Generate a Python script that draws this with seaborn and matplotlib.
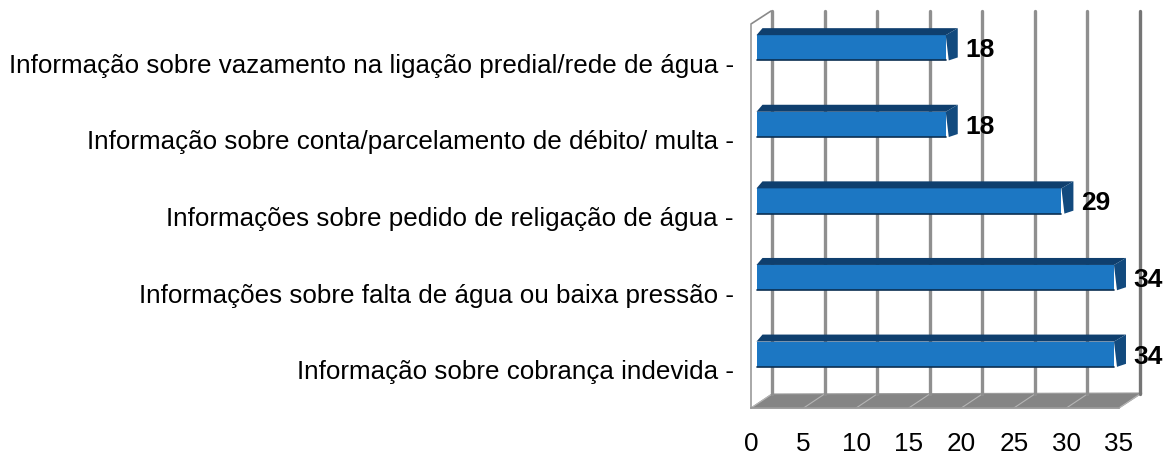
import matplotlib
matplotlib.use("Agg")
import matplotlib.pyplot as plt
import seaborn as sns
import pandas as pd
from matplotlib.patches import Polygon
from matplotlib.transforms import Affine2D, IdentityTransform

categories = [
    "Informação sobre vazamento na ligação predial/rede de água",
    "Informação sobre conta/parcelamento de débito/ multa",
    "Informações sobre pedido de religação de água",
    "Informações sobre falta de água ou baixa pressão",
    "Informação sobre cobrança indevida",
]
values = [18, 18, 29, 34, 34]
xticks = [0, 5, 10, 15, 20, 25, 30, 35]

W, H = 1165, 454
sns.set_style("white")
plt.rcParams["font.family"] = ["Liberation Sans", "DejaVu Sans"]
plt.rcParams["text.color"] = "black"
plt.rcParams["xtick.labelcolor"] = "black"
plt.rcParams["ytick.labelcolor"] = "black"

fig = plt.figure(figsize=(W / 100, H / 100), dpi=100)
L, R, T, B = 751, 1119, 25, 408
ax = fig.add_axes([L / W, 1 - B / H, (R - L) / W, (B - T) / H])

df = pd.DataFrame({"cat": categories, "val": values})
sns.barplot(data=df, x="val", y="cat", orient="h", color="#1c77c3", width=0.33,
            saturation=1, ax=ax, zorder=5)
ax.set_xlim(0, 35)
ax.set_ylim(len(categories) - 0.5, -0.5)
ax.set_xlabel("")
ax.set_ylabel("")

ax.set_xticks(xticks)
ax.set_xticklabels([str(t) for t in xticks], fontsize=18.8)
ax.set_yticks(range(len(categories)))
ax.set_yticklabels([c + " -" for c in categories], fontsize=18.7)
ax.tick_params(axis="y", length=0, pad=12.5)
ax.tick_params(axis="x", length=2, width=1.5, color="#222222", pad=15, direction="out")

for s in ("top", "right"):
    ax.spines[s].set_visible(False)
for s in ("left", "bottom"):
    ax.spines[s].set_color("#9a9a9a")
    ax.spines[s].set_linewidth(1.2)

# pseudo-3D room: back wall, floor
DX, DY = 21, 14
floor_corners = [(L, H - B), (R, H - B), (R + DX + 2, H - B + DY + 1), (L + DX, H - B + DY)]
ax.add_patch(Polygon(floor_corners, closed=True, transform=IdentityTransform(),
                     facecolor="#858585", edgecolor="#9a9a9a", lw=0.8, zorder=1, clip_on=False))
for t in xticks:
    (x0, y0) = ax.transData.transform((t, len(categories) - 0.5))
    ax.plot([x0, x0 + DX], [y0, y0 + DY], transform=IdentityTransform(),
            color="#b5b5b5", lw=0.8, zorder=1.5, clip_on=False)
    ax.plot([x0 + DX, x0 + DX], [y0 + DY, H - 11], transform=IdentityTransform(),
            color="#757575" if t == 35 else "#8f8f8f", lw=2.4, zorder=2, clip_on=False)
# top left corner notch of side wall
ax.plot([L, L + DX - 1], [H - T + 1, H - 11], transform=IdentityTransform(),
        color="#8a8a8a", lw=1.2, zorder=2, clip_on=False)

# bars: shift front face into the room, add top and side faces
SX, SY = 5.5, 15.5
BX, BY = 12, 7
for p, v in zip(ax.patches, values):
    if not hasattr(p, "get_width") or p.get_width() == 0:
        continue
    x0, y0 = ax.transData.transform((p.get_x(), p.get_y() + p.get_height()))
    x1, y1 = ax.transData.transform((p.get_x() + p.get_width(), p.get_y()))
    x0 += SX; x1 += SX; y0 += SY; y1 += SY
    p.set_transform(ax.transData + Affine2D().translate(SX, SY))
    p.set_clip_on(False)
    p.set_edgecolor("none")
    top = [(x0, y1), (x0 + 6, y1 + BY), (x1 + BX, y1 + BY), (x1, y1)]
    side = [(x1, y1), (x1 + BX, y1 + BY), (x1 + BX, y0 + 3), (x1 + 3, y0)]
    ax.add_patch(Polygon(top, closed=True, transform=IdentityTransform(), facecolor="#0f3f6e",
                         edgecolor="none", zorder=5, clip_on=False))
    ax.add_patch(Polygon(side, closed=True, transform=IdentityTransform(), facecolor="#124a7e",
                         edgecolor="none", zorder=5, clip_on=False))
    ax.plot([x0, x1], [y0, y0], transform=IdentityTransform(), color="#0c2f52", lw=1.2,
            zorder=6, clip_on=False)

for i, v in enumerate(values):
    ax.annotate(str(v), xy=(v, i), xytext=(18.0, 9.5), textcoords="offset points",
                ha="left", va="center", fontsize=19, fontweight="bold", color="black",
                zorder=8, annotation_clip=False)

fig.savefig("out.png", dpi=100, facecolor="white")
